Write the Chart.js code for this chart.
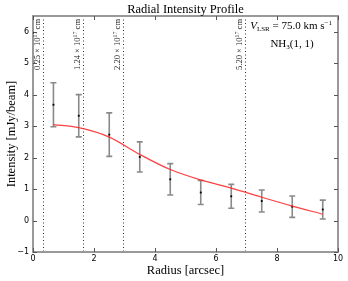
<!DOCTYPE html>
<html><head><meta charset="utf-8">
<script src="https://cdn.jsdelivr.net/npm/chart.js@4"></script>
<style>html,body{margin:0;padding:0;background:#fff}#wrap{width:348px;height:281px;position:relative}</style>
</head><body><div id="wrap"><canvas id="c"></canvas></div>
<script>
const radius = [0.67, 1.5, 2.5, 3.5, 4.5, 5.5, 6.5, 7.5, 8.5, 9.5];
const intensity = [3.68, 3.33, 2.73, 2.02, 1.31, 0.89, 0.77, 0.62, 0.44, 0.35];
const errors = [0.70, 0.67, 0.69, 0.48, 0.50, 0.38, 0.38, 0.35, 0.34, 0.30];
const modelRadius = [0.67, 1.5, 2.5, 3.5, 4.5, 5.5, 6.5, 7.5, 8.5, 9.5];
const modelIntensity = [3.05, 2.95, 2.65, 2.10, 1.62, 1.29, 1.03, 0.74, 0.46, 0.20];
const shellRadius = [0.34, 1.65, 2.94, 6.94];
const shellLabels = ["0.25", "1.24", "2.20", "5.20"];
const xTicks = [0, 2, 4, 6, 8, 10];
const yTicks = [-1, 0, 1, 2, 3, 4, 5, 6];
const titleText = "Radial Intensity Profile";
const xTitle = "Radius [arcsec]";
const yTitle = "Intensity [mJy/beam]";

const SERIF = '"Liberation Serif", "DejaVu Serif", serif';
const SANS = '"DejaVu Sans", sans-serif';

const decor = {
  id: 'decor',
  beforeDatasetsDraw(chart) {
    const {ctx, chartArea: a, scales: {x, y}} = chart;
    ctx.save();
    // shell lines
    ctx.strokeStyle = '#333';
    ctx.lineWidth = 1;
    ctx.setLineDash([1, 2.5]);
    shellRadius.forEach((r) => {
      const px = Math.round(x.getPixelForValue(r)) + 0.5;
      ctx.beginPath(); ctx.moveTo(px, a.top); ctx.lineTo(px, a.bottom); ctx.stroke();
    });
    ctx.setLineDash([]);
    // error bars
    ctx.strokeStyle = '#8a8a8a';
    ctx.lineWidth = 1.6;
    radius.forEach((r, i) => {
      const px = x.getPixelForValue(r);
      const y1 = y.getPixelForValue(intensity[i] + errors[i]);
      const y2 = y.getPixelForValue(intensity[i] - errors[i]);
      ctx.beginPath();
      ctx.moveTo(px, y1); ctx.lineTo(px, y2);
      ctx.moveTo(px - 3, y1); ctx.lineTo(px + 3, y1);
      ctx.moveTo(px - 3, y2); ctx.lineTo(px + 3, y2);
      ctx.stroke();
    });
    ctx.restore();
  },
  afterDraw(chart) {
    const {ctx, chartArea: a, scales: {x, y}} = chart;
    ctx.save();
    // frame
    ctx.strokeStyle = '#999';
    ctx.lineWidth = 2;
    ctx.strokeRect(a.left, a.top, a.right - a.left, a.bottom - a.top);
    // inward ticks
    ctx.lineWidth = 1;
    ctx.strokeStyle = '#555';
    ctx.beginPath();
    xTicks.forEach((v) => {
      const px = Math.round(x.getPixelForValue(v)) + 0.5;
      ctx.moveTo(px, a.bottom); ctx.lineTo(px, a.bottom - 4);
      ctx.moveTo(px, a.top); ctx.lineTo(px, a.top + 4);
    });
    yTicks.forEach((v) => {
      const py = Math.round(y.getPixelForValue(v)) + 0.5;
      ctx.moveTo(a.left, py); ctx.lineTo(a.left + 4, py);
      ctx.moveTo(a.right, py); ctx.lineTo(a.right - 4, py);
    });
    ctx.stroke();
    // shell labels
    ctx.fillStyle = '#222';
    shellRadius.forEach((r, i) => {
      const px = Math.round(x.getPixelForValue(r));
      ctx.save();
      ctx.translate(px - 3, a.top + 3);
      ctx.rotate(-Math.PI / 2);
      ctx.textBaseline = 'alphabetic';
      const f1 = '8.5px ' + SERIF, f2 = '6px ' + SERIF;
      const parts = [[shellLabels[i] + ' \u00d7 10', f1, 0], ['17', f2, -3.5], [' cm', f1, 0]];
      let total = 0;
      parts.forEach(p => { ctx.font = p[1]; total += ctx.measureText(p[0]).width; });
      let cx = -total;
      parts.forEach(p => { ctx.font = p[1]; ctx.fillText(p[0], cx, p[2]); cx += ctx.measureText(p[0]).width; });
      ctx.restore();
    });
    // annotation
    ctx.fillStyle = '#000';
    const ap = [['V', 'italic 11px ' + SERIF, 0], ['LSR', '7px ' + SERIF, 2], [' = 75.0 km s', '11px ' + SERIF, 0], ['\u22121', '7px ' + SERIF, -4]];
    let tw = 0;
    ap.forEach(p => { ctx.font = p[1]; tw += ctx.measureText(p[0]).width; });
    let ax = 332 - tw;
    ap.forEach(p => { ctx.font = p[1]; ctx.fillText(p[0], ax, 29 + p[2]); ax += ctx.measureText(p[0]).width; });
    const np = [['NH', '11px ' + SERIF, 0], ['3', '7px ' + SERIF, 2], ['(1, 1)', '11px ' + SERIF, 0]];
    tw = 0;
    np.forEach(p => { ctx.font = p[1]; tw += ctx.measureText(p[0]).width; });
    ax = 292 - tw / 2;
    np.forEach(p => { ctx.font = p[1]; ctx.fillText(p[0], ax, 47 + p[2]); ax += ctx.measureText(p[0]).width; });
    // titles
    ctx.textAlign = 'center';
    ctx.font = '12.5px ' + SERIF;
    ctx.fillText(titleText, (a.left + a.right) / 2, 13);
    ctx.fillText(xTitle, (a.left + a.right) / 2, 274);
    ctx.save();
    ctx.translate(15, (a.top + a.bottom) / 2);
    ctx.rotate(-Math.PI / 2);
    ctx.fillText(yTitle, 0, 0);
    ctx.restore();
    ctx.restore();
  }
};

new Chart(document.getElementById('c'), {
  type: 'scatter',
  data: {
    datasets: [
      {
        data: modelRadius.map((r, i) => ({x: r, y: modelIntensity[i]})),
        showLine: true, borderColor: 'rgba(255,30,30,0.85)', borderWidth: 1.2,
        pointRadius: 0, cubicInterpolationMode: 'monotone', fill: false
      },
      {
        data: radius.map((r, i) => ({x: r, y: intensity[i]})),
        pointRadius: 1.3, pointStyle: 'rect', backgroundColor: '#000', borderColor: '#000', borderWidth: 0
      }
    ]
  },
  options: {
    responsive: true, maintainAspectRatio: false, animation: false,
    devicePixelRatio: 1,
    layout: {padding: {top: 16, right: 10, left: 0, bottom: 0}},
    plugins: {legend: {display: false}, tooltip: {enabled: false}, title: {display: false}},
    scales: {
      x: {
        type: 'linear', min: 0, max: 10,
        afterBuildTicks: (s) => { s.ticks = xTicks.map(v => ({value: v})); },
        afterFit: (s) => { s.height = 29; },
        grid: {display: false, drawTicks: false}, border: {display: false},
        ticks: {color: '#000', font: {family: SANS, size: 8}, padding: 2, maxRotation: 0,
          callback: (v) => String(v).replace('-', '\u2212')}
      },
      y: {
        type: 'linear', min: -1, max: 6.5,
        afterBuildTicks: (s) => { s.ticks = yTicks.map(v => ({value: v})); },
        afterFit: (s) => { s.width = 33; },
        grid: {display: false, drawTicks: false}, border: {display: false},
        ticks: {color: '#000', font: {family: SANS, size: 8}, padding: 4,
          callback: (v) => String(v).replace('-', '\u2212')}
      }
    }
  },
  plugins: [decor]
});
</script></body></html>
